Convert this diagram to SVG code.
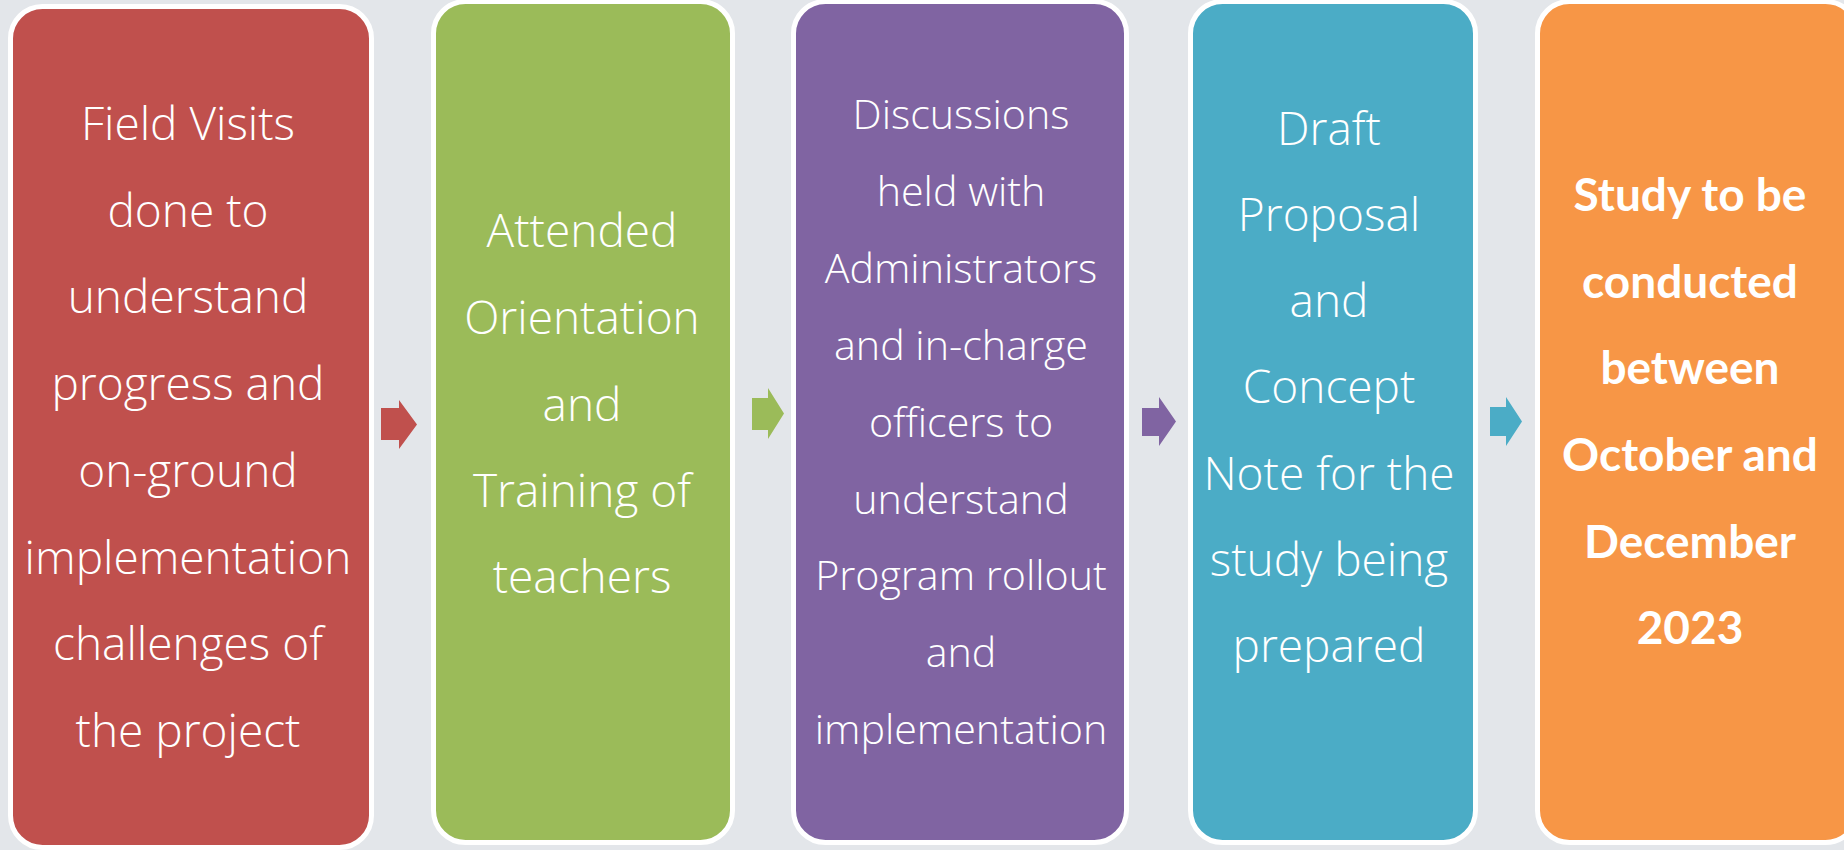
<svg xmlns="http://www.w3.org/2000/svg" width="1844" height="850" viewBox="0 0 1844 850">
<style>
.box{stroke:#FFFFFF;stroke-width:5}
.t{font-family:"Open Sans","Noto Sans","Liberation Sans",sans-serif;font-weight:300;fill:#FFFFFF;text-anchor:middle}
.big{font-size:46px}
.mid{font-size:41.2px}
.b{font-family:Lato,"Open Sans","Liberation Sans",sans-serif;font-weight:700;font-size:46px;fill:#FFFFFF;text-anchor:middle}
</style>
<rect x="0" y="0" width="1844" height="850" fill="#E3E6EA"/>
<g id="connectors">
<polygon fill="#C0504D" points="381,408 399,408 399,400 417,424.5 399,449 399,440 381,440"/>
<polygon fill="#9BBB59" points="752,398 768,398 768,388 784,413.5 768,439 768,430 752,430"/>
<polygon fill="#8064A2" points="1142,408 1159,408 1159,397 1176,421.5 1159,446 1159,436 1142,436"/>
<polygon fill="#4BACC6" points="1490,407 1506,407 1506,397 1522,421.5 1506,446 1506,436 1490,436"/>
</g>
<g id="node1">
<rect class="box" x="10.5" y="6.5" width="361" height="841" rx="32" fill="#C0504D"/>
<text class="t big"><tspan x="188" y="140">Field  Visits</tspan><tspan x="188" y="226.7">done to</tspan><tspan x="188" y="313.4">understand</tspan><tspan x="188" y="400.1">progress and</tspan><tspan x="188" y="486.8">on-ground</tspan><tspan x="188" y="573.5">implementation</tspan><tspan x="188" y="660.2">challenges of</tspan><tspan x="188" y="746.9">the project</tspan></text>
</g>
<g id="node2">
<rect class="box" x="433.5" y="1.5" width="299" height="841" rx="32" fill="#9BBB59"/>
<text class="t big"><tspan x="582" y="247">Attended</tspan><tspan x="582" y="334">Orientation</tspan><tspan x="582" y="421">and</tspan><tspan x="582" y="507">Training of</tspan><tspan x="582" y="593">teachers</tspan></text>
</g>
<g id="node3">
<rect class="box" x="793.5" y="1.5" width="333" height="841" rx="32" fill="#8064A2"/>
<text class="t mid"><tspan x="961" y="129">Discussions</tspan><tspan x="961" y="206">held with</tspan><tspan x="961" y="283">Administrators</tspan><tspan x="961" y="360">and in-charge</tspan><tspan x="961" y="437">officers to</tspan><tspan x="961" y="514">understand</tspan><tspan x="961" y="590">Program rollout</tspan><tspan x="961" y="667">and</tspan><tspan x="961" y="744">implementation</tspan></text>
</g>
<g id="node4">
<rect class="box" x="1190.5" y="1.5" width="285" height="841" rx="32" fill="#4BACC6"/>
<text class="t big"><tspan x="1329" y="145">Draft</tspan><tspan x="1329" y="231">Proposal</tspan><tspan x="1329" y="317">and</tspan><tspan x="1329" y="403">Concept</tspan><tspan x="1329" y="490">Note for the</tspan><tspan x="1329" y="576">study being</tspan><tspan x="1329" y="662">prepared</tspan></text>
</g>
<g id="node5">
<rect class="box" x="1537.5" y="1.5" width="320" height="841" rx="32" fill="#F79646"/>
<text class="b"><tspan x="1690" y="211">Study to be</tspan><tspan x="1690" y="298">conducted</tspan><tspan x="1690" y="384">between</tspan><tspan x="1690" y="471">October and</tspan><tspan x="1690" y="558">December</tspan><tspan x="1690" y="644">2023</tspan></text>
</g>
</svg>
